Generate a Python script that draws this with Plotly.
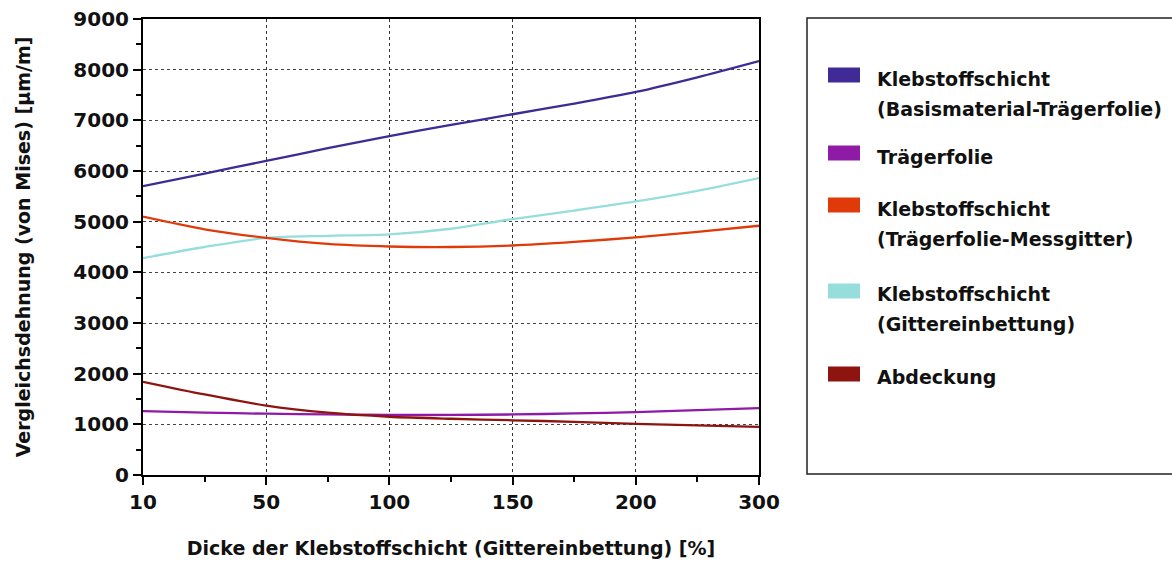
import numpy as np
import plotly.graph_objects as go

# Data
tick_labels = [10, 50, 100, 150, 200, 300]
x_vals = [10, 30, 50, 75, 100, 125, 150, 175, 200, 250, 300]
basis_traeger = [5700, 5950, 6200, 6450, 6690, 6910, 7120, 7330, 7560, 7850, 8170]
traegerfolie = [1260, 1230, 1210, 1195, 1185, 1185, 1195, 1215, 1240, 1280, 1320]
traeger_mess = [5100, 4850, 4680, 4560, 4510, 4500, 4530, 4600, 4690, 4800, 4920]
gitter = [4280, 4500, 4680, 4720, 4750, 4860, 5050, 5220, 5400, 5610, 5860]
abdeckung = [1840, 1590, 1370, 1230, 1150, 1110, 1080, 1050, 1010, 980, 950]

names = ["Klebstoffschicht<br>(Basismaterial-Trägerfolie)", "Trägerfolie",
         "Klebstoffschicht<br>(Trägerfolie-Messgitter)", "Klebstoffschicht<br>(Gittereinbettung)",
         "Abdeckung"]
series = [basis_traeger, traegerfolie, traeger_mess, gitter, abdeckung]
colors = ["#3f2a96", "#8e1aa6", "#e03a0a", "#96dedc", "#8e1410"]

# piecewise-linear axis: tick labels equally spaced
tick_idx = np.arange(len(tick_labels))
xpos = np.interp(x_vals, tick_labels, tick_idx)

FONT = "DejaVu Sans"
fig = go.Figure()
order = [3, 2, 0, 1, 4]
for i in order:
    fig.add_trace(go.Scatter(x=xpos, y=series[i], mode="lines", name=names[i],
                             line=dict(color=colors[i], width=2.3, shape="spline", smoothing=0.8),
                             showlegend=False))

fig.update_layout(
    width=1172, height=564,
    margin=dict(l=143, r=413, t=19, b=89),
    paper_bgcolor="white", plot_bgcolor="white",
    font=dict(family=FONT, size=17, color="#111"),
    showlegend=False,
)
fig.update_xaxes(
    range=[0, 5], tickvals=list(tick_idx), ticktext=[str(t) for t in tick_labels],
    automargin=False,
    showgrid=True, gridcolor="#333", griddash="3px,3px", gridwidth=1,
    showline=True, linecolor="black", linewidth=2, mirror=True,
    ticks="outside", ticklen=8, tickwidth=1.5, tickcolor="black",
    minor=dict(tickvals=[0.5, 1.5, 2.5, 3.5, 4.5], ticks="outside", ticklen=5, tickwidth=1.5,
               tickcolor="black", showgrid=False),
    tickfont=dict(family=FONT, size=20, color="#111", weight="bold"),
    title=dict(text="Dicke der Klebstoffschicht (Gittereinbettung) [%]", standoff=29,
               font=dict(family=FONT, size=19, color="#111", weight="bold")),
    zeroline=False,
)
fig.update_yaxes(
    range=[0, 9000], dtick=1000, tick0=0,
    automargin=False,
    showgrid=True, gridcolor="#444", griddash="3px,3px", gridwidth=1,
    showline=True, linecolor="black", linewidth=2, mirror=True,
    ticks="outside", ticklen=8, tickwidth=1.5, tickcolor="black",
    minor=dict(dtick=500, ticks="outside", ticklen=5, tickwidth=1.5, tickcolor="black", showgrid=False),
    tickfont=dict(family=FONT, size=20, color="#111", weight="bold"),
    title=dict(text="Vergleichsdehnung (von Mises) [µm/m]", standoff=38,
               font=dict(family=FONT, size=19, color="#111", weight="bold")),
    zeroline=False,
)

# Manual legend
def px_x(px):
    return (px - 143) / 616.0

def px_y(py):
    return (475 - py) / 456.0

fig.add_shape(type="rect", xref="paper", yref="paper",
              x0=px_x(807), x1=px_x(1190), y0=px_y(474), y1=px_y(18),
              line=dict(color="#222", width=1.5), fillcolor="rgba(0,0,0,0)")
leg_items = [(0, 75, 79), (1, 153, 157), (2, 205, 209), (3, 291, 294), (4, 374, 377)]
for idx, sy, ty in leg_items:
    fig.add_shape(type="rect", xref="paper", yref="paper",
                  x0=px_x(828), x1=px_x(860), y0=px_y(sy + 7.5), y1=px_y(sy - 7.5),
                  line=dict(width=0), fillcolor=colors[idx])
    for k, line in enumerate(names[idx].split("<br>")):
        fig.add_annotation(xref="paper", yref="paper", x=px_x(875), y=px_y(ty + 30 * k),
                           xanchor="left", yanchor="middle", align="left", showarrow=False,
                           text=line,
                           font=dict(family=FONT, size=19, color="#111", weight="bold"))

fig.write_html("out.html", config={"displayModeBar": False},
               post_script="document.body.style.margin='0px';")
